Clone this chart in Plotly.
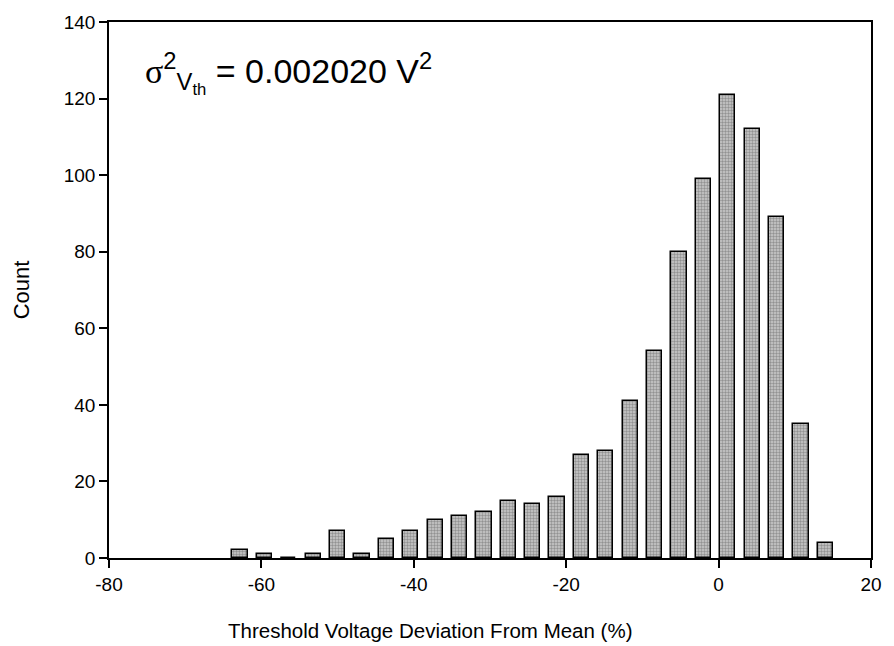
import plotly.graph_objects as go

# bin centres (%) and counts
bin_centers = [-62.8, -59.6, -56.4, -53.2, -50.0, -46.8, -43.6, -40.4, -37.2, -34.0,
               -30.8, -27.6, -24.4, -21.2, -18.0, -14.8, -11.6, -8.4, -5.2, -2.0,
               1.2, 4.4, 7.6, 10.8, 14.0]
counts = [2, 1, 0, 1, 7, 1, 5, 7, 10, 11,
          12, 15, 14, 16, 27, 28, 41, 54, 80, 99,
          121, 112, 89, 35, 4]

x_ticks = [-80, -60, -40, -20, 0, 20]
x_labels = ["-80", "-60", "-40", "-20", "0", "20"]
y_ticks = [0, 20, 40, 60, 80, 100, 120, 140]

FONT = "Liberation Sans, Arial, sans-serif"

fig = go.Figure()
fig.add_trace(go.Bar(
    x=bin_centers, y=counts, width=2.0,
    marker=dict(color="#b5b5b5",
                line=dict(color="black", width=1.5),
                pattern=dict(shape=".", fgcolor="#5a5a5a", bgcolor="#cacaca",
                             size=3, solidity=0.5)),
    showlegend=False,
))

# sigma^2 annotation
fig.add_annotation(
    x=0.045, y=0.905, xref="paper", yref="paper", xanchor="left", yanchor="middle",
    showarrow=False,
    text=("<span style='font-family:Liberation Serif,Times New Roman,serif'>σ</span>"
          "<sup>2</sup><sub>V<sub>th</sub></sub> = 0.002020 V<sup>2</sup>"),
    font=dict(family=FONT, size=34, color="black"),
)

# x title sits left of centre in the original, so place it by hand
fig.add_annotation(
    x=0.4215, y=-0.135, xref="paper", yref="paper", xanchor="center", yanchor="middle",
    showarrow=False, text="Threshold Voltage Deviation From Mean (%)",
    font=dict(family=FONT, size=20.5, color="black"),
)

fig.update_layout(
    width=894, height=646,
    margin=dict(l=109, r=14, t=19, b=88),
    paper_bgcolor="white", plot_bgcolor="white",
    font=dict(family=FONT, size=19, color="black"),
    bargap=0,
)
fig.update_xaxes(
    range=[-80, 20], tickvals=x_ticks, ticktext=x_labels,
    ticks="outside", ticklen=8, tickwidth=1.5,
    tickcolor="black", showline=True, linecolor="black", linewidth=1.5, mirror=True,
    showgrid=False, zeroline=False,
)
fig.update_yaxes(
    range=[0, 140], tickvals=y_ticks, ticks="outside", ticklen=8, tickwidth=1.5,
    tickcolor="black", showline=True, linecolor="black", linewidth=1.5, mirror=True,
    showgrid=False, zeroline=False,
    title=dict(text="Count", font=dict(size=22), standoff=28),
)

fig.write_html(
    "out.html",
    config={"displayModeBar": False},
    post_script="document.body.style.margin='0';document.body.style.overflow='hidden';"
                "document.documentElement.style.overflow='hidden';",
)
